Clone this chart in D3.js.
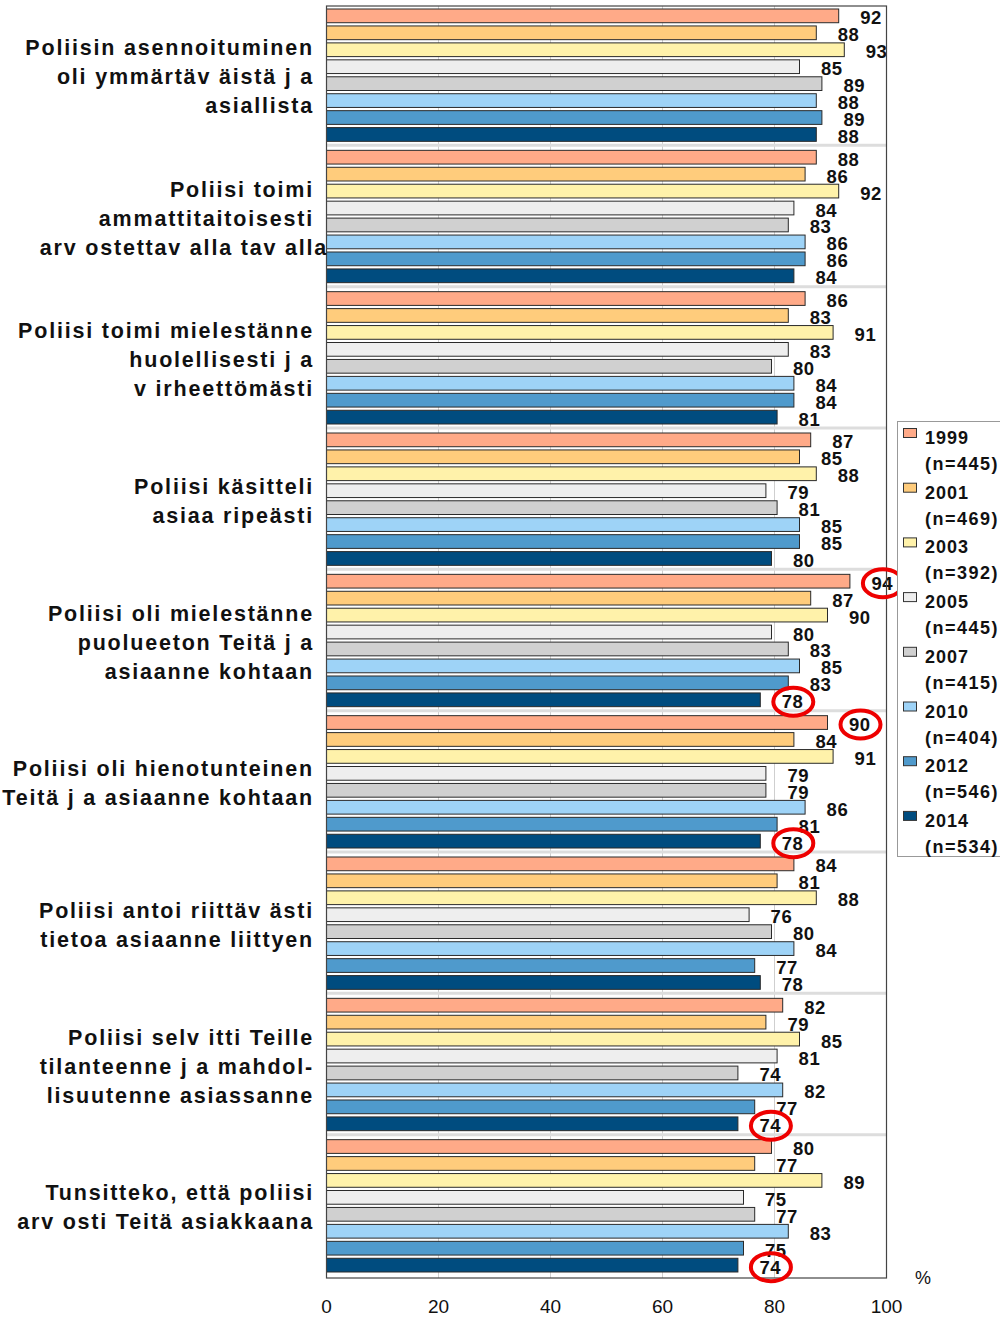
<!DOCTYPE html>
<html>
<head>
<meta charset="utf-8">
<script src="https://cdn.jsdelivr.net/npm/d3@7"></script>
<style>
  body { margin: 0; background: #fff; }
  svg { font-family: "Liberation Sans", Arial, sans-serif; }
</style>
</head>
<body>
<div id="chart"></div>
<script>
// data
var years = ["1999", "2001", "2003", "2005", "2007", "2010", "2012", "2014"];
var sampleSizes = ["445", "469", "392", "445", "415", "404", "546", "534"];
var colors = ["#FFAA88", "#FFCC7C", "#FFF2AA", "#EEEEEE", "#D0D0D0", "#9ED3F7", "#4F9ACC", "#004C7F"];

var questions = [
  ["Poliisin asennoituminen", "oli ymmärtäv äistä j a", "asiallista"],
  ["Poliisi toimi", "ammattitaitoisesti", "arv ostettav alla tav alla"],
  ["Poliisi toimi mielestänne", "huolellisesti j a", "v irheettömästi"],
  ["Poliisi käsitteli", "asiaa ripeästi"],
  ["Poliisi oli mielestänne", "puolueeton Teitä j a", "asiaanne kohtaan"],
  ["Poliisi oli hienotunteinen", "Teitä j a asiaanne kohtaan"],
  ["Poliisi antoi riittäv ästi", "tietoa asiaanne liittyen"],
  ["Poliisi selv itti Teille", "tilanteenne j a mahdol-", "lisuutenne asiassanne"],
  ["Tunsitteko, että poliisi", "arv osti Teitä asiakkaana"]
];

var values = [
  [92, 88, 93, 85, 89, 88, 89, 88],
  [88, 86, 92, 84, 83, 86, 86, 84],
  [86, 83, 91, 83, 80, 84, 84, 81],
  [87, 85, 88, 79, 81, 85, 85, 80],
  [94, 87, 90, 80, 83, 85, 83, 78],
  [90, 84, 91, 79, 79, 86, 81, 78],
  [84, 81, 88, 76, 80, 84, 77, 78],
  [82, 79, 85, 81, 74, 82, 77, 74],
  [80, 77, 89, 75, 77, 83, 75, 74]
];

// highlighted labels [question index, year index]
var circled = [[4, 0], [4, 7], [5, 0], [5, 7], [7, 7], [8, 7]];

var xTicks = [0, 20, 40, 60, 80, 100];

var width = 1000, height = 1317;
var plotLeft = 326.5, plotRight = 886.5, plotTop = 6, plotBottom = 1278;

var svg = d3.select("#chart").append("svg")
  .attr("width", width)
  .attr("height", height);

var x = d3.scaleLinear().domain([0, 100]).range([plotLeft, plotRight]);
var y0 = d3.scaleBand().domain(d3.range(questions.length)).range([plotTop, plotBottom]);
var y1 = d3.scaleBand().domain(years)
  .range([3, y0.bandwidth() - 6]).paddingInner(0.19).paddingOuter(0);

// gridlines
svg.append("g").selectAll("line")
  .data(xTicks.slice(1, -1))
  .enter().append("line")
    .attr("x1", function(d) { return x(d); })
    .attr("x2", function(d) { return x(d); })
    .attr("y1", plotTop).attr("y2", plotBottom)
    .attr("stroke", "#cfcfcf").attr("stroke-width", 1);

// group separators
svg.append("g").selectAll("line")
  .data(d3.range(1, questions.length))
  .enter().append("line")
    .attr("x1", plotLeft).attr("x2", plotRight)
    .attr("y1", function(d) { return y0(d) - 2; })
    .attr("y2", function(d) { return y0(d) - 2; })
    .attr("stroke", "#dddddd").attr("stroke-width", 3);

// bars
var groups = svg.append("g").selectAll("g")
  .data(values)
  .enter().append("g")
    .attr("transform", function(d, i) { return "translate(0," + y0(i) + ")"; });

groups.selectAll("rect")
  .data(function(d) { return d; })
  .enter().append("rect")
    .attr("x", x(0))
    .attr("y", function(d, j) { return y1(years[j]); })
    .attr("width", function(d) { return x(d) - x(0) - 3; })
    .attr("height", y1.bandwidth())
    .attr("fill", function(d, j) { return colors[j]; })
    .attr("stroke", "#2a2a2a")
    .attr("stroke-width", 1);

// frame
svg.append("rect")
  .attr("x", plotLeft).attr("y", plotTop)
  .attr("width", plotRight - plotLeft).attr("height", plotBottom - plotTop)
  .attr("fill", "none").attr("stroke", "#444").attr("stroke-width", 1.2);

// value labels
groups.selectAll("text")
  .data(function(d) { return d; })
  .enter().append("text")
    .attr("x", function(d) { return x(d) + 18.5; })
    .attr("y", function(d, j) { return y1(years[j]) + y1.bandwidth() / 2 + 8.5; })
    .attr("font-size", "18.5px")
    .attr("font-weight", "bold")
    .attr("letter-spacing", "0.5px")
    .attr("fill", "#111")
    .text(function(d) { return d; });

// red ellipses
svg.append("g").selectAll("ellipse")
  .data(circled)
  .enter().append("ellipse")
    .attr("cx", function(d) { return x(values[d[0]][d[1]]) + 30; })
    .attr("cy", function(d) { return y0(d[0]) + y1(years[d[1]]) + y1.bandwidth() / 2 + 2; })
    .attr("rx", 20)
    .attr("ry", 14)
    .attr("fill", "none")
    .attr("stroke", "#ee0000")
    .attr("stroke-width", 4);

// category labels
var lineH = 29;
svg.append("g").selectAll("text")
  .data(questions)
  .enter().append("text")
    .attr("text-anchor", "end")
    .attr("font-size", "21.5px")
    .attr("font-weight", "bold")
    .attr("letter-spacing", "1.8px")
    .attr("fill", "#111")
    .each(function(d, i) {
      var cy = y0(i) + y0.bandwidth() / 2;
      var t = d3.select(this);
      d.forEach(function(line, k) {
        t.append("tspan")
          .attr("x", i === 1 && k === 2 ? 328 : 314)
          .attr("y", cy - (d.length - 1) * lineH / 2 + k * lineH + 7.5)
          .text(line);
      });
    });

// x axis labels
svg.append("g").selectAll("text")
  .data(xTicks)
  .enter().append("text")
    .attr("x", function(d) { return x(d); })
    .attr("y", 1313)
    .attr("text-anchor", "middle")
    .attr("font-size", "19px")
    .attr("fill", "#111")
    .text(function(d) { return d; });

svg.append("text")
  .attr("x", 923).attr("y", 1284)
  .attr("text-anchor", "middle")
  .attr("font-size", "18px")
  .attr("fill", "#111")
  .text("%");

// legend
var legend = svg.append("g");
legend.append("rect")
  .attr("x", 897.5).attr("y", 421.5)
  .attr("width", 110).attr("height", 435)
  .attr("fill", "#fff").attr("stroke", "#999").attr("stroke-width", 1);

var items = legend.selectAll("g")
  .data(years)
  .enter().append("g")
    .attr("transform", function(d, i) { return "translate(0," + (i * 54.7) + ")"; });

items.append("rect")
  .attr("x", 903.5).attr("y", 428.5)
  .attr("width", 13).attr("height", 9)
  .attr("fill", function(d, i) { return colors[i]; })
  .attr("stroke", "#333").attr("stroke-width", 1);

items.append("text")
  .attr("x", 925).attr("y", 444)
  .attr("font-size", "18px").attr("font-weight", "bold").attr("fill", "#111")
  .attr("letter-spacing", "1px")
  .text(function(d) { return d; });

items.append("text")
  .attr("x", 925).attr("y", 470)
  .attr("font-size", "18px").attr("font-weight", "bold").attr("fill", "#111")
  .attr("letter-spacing", "1.5px")
  .text(function(d, i) { return "(n=" + sampleSizes[i] + ")"; });
</script>
</body>
</html>
